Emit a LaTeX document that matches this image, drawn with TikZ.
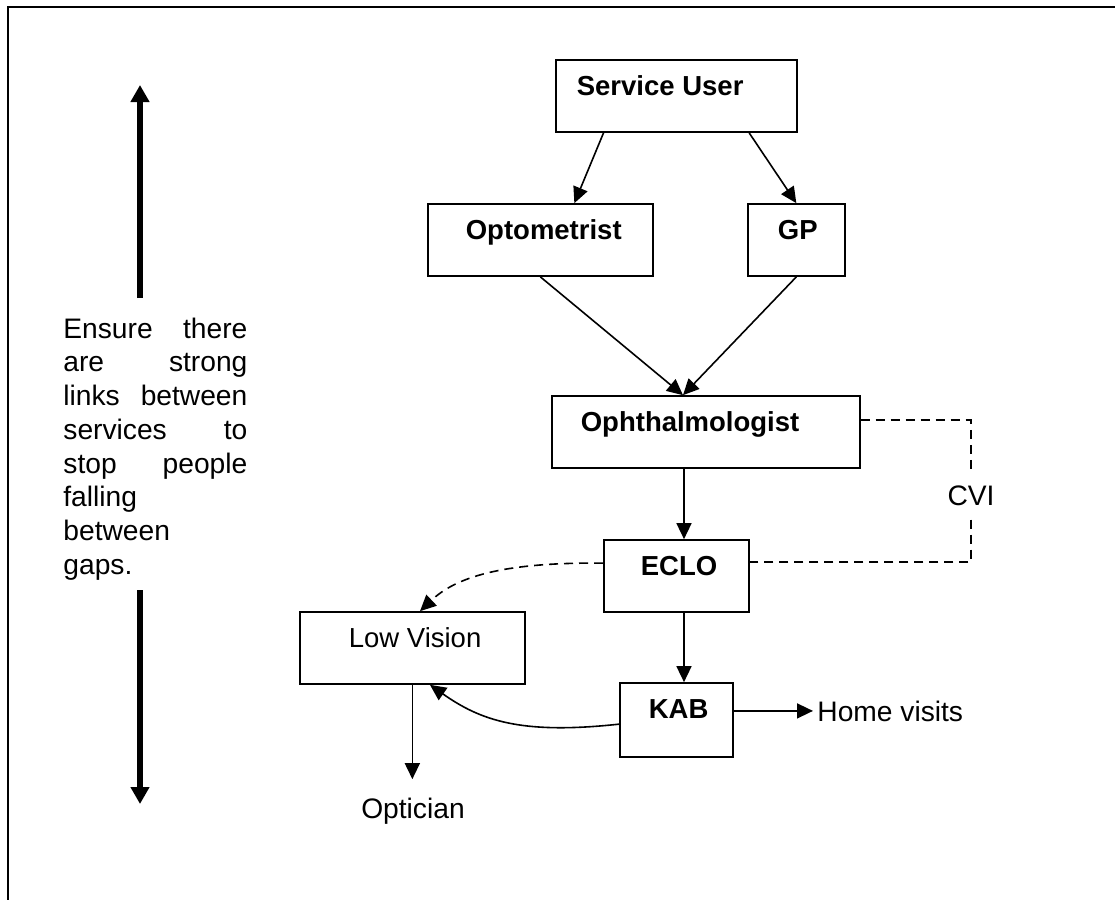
\documentclass[tikz,border=0pt]{standalone}
\usepackage{fontspec}
\setmainfont{Liberation Sans}
\usetikzlibrary{arrows.meta,calc}
\newdimen\pxu \pxu=0.5pt
\newcommand\bxt[3]{\makebox[#1\pxu][l]{\hspace*{#2\pxu}#3}}
\begin{document}
\begin{tikzpicture}[x=0.5pt,y=-0.5pt,
  base font/.style={font=\fontsize{14.1pt}{16pt}\selectfont},
  base font,
  box/.style={draw, line width=0.85pt, inner sep=0pt, text height=17.5pt, text depth=18.5pt,
    anchor=base west, font=\fontsize{13.75pt}{16pt}\selectfont\bfseries},
  plainbox/.style={box, font=\fontsize{13.75pt}{16pt}\selectfont},
  arr/.style={line width=0.8pt, -{Triangle[width=7.5pt,length=8pt]}},
  dsh/.style={line width=0.8pt, dash pattern=on 4.5pt off 3pt},
  big/.style={line width=2.8pt, -{Triangle[width=9pt,length=8.5pt]}},
  txtline/.style={anchor=base west, inner sep=0pt},
  frame/.style={line width=1pt}
]
\useasboundingbox (0,0) rectangle (1115,900);

% frame
\coordinate (fTR) at (1115,7);
\coordinate (fTL) at (8,7);
\coordinate (fBL) at (8,900);
\draw[frame] (fTR) -- (fTL) -- (fBL);

% boxes
\node[box] (su) at (555,95) {\bxt{241}{21}{Service User}};
\node[box] (opt) at (427,239) {\bxt{225}{38}{Optometrist}};
\node[box] (gp) at (747,239) {\bxt{97}{30}{GP}};
\node[box] (oph) at (551,431) {\bxt{308}{29}{Ophthalmologist}};
\node[box] (eclo) at (603,575) {\bxt{145}{37}{ECLO}};
\node[plainbox] (lowv) at (299,647) {\bxt{225}{49}{Low Vision}};
\node[box, text depth=19.5pt] (kab) at (619,718) {\bxt{113}{29}{KAB}};

% free labels
\node[anchor=base west, inner xsep=2pt] (home) at (813,721) {Home visits};
\node[anchor=base, inner xsep=0pt, inner ysep=9pt] (optc) at (413,818) {Optician};
\node[anchor=base, inner xsep=0pt, inner ysep=7pt] (cvi) at (971,505) {CVI};

% left text
\node[txtline] (t1) at (63,338) {\makebox[92pt][s]{Ensure there}};
\node[txtline] (t2) at (63,371.75) {\makebox[92pt][s]{are strong}};
\node[txtline] (t3) at (63,405.5) {\makebox[92pt][s]{links between}};
\node[txtline] (t4) at (63,439.25) {\makebox[92pt][s]{services to}};
\node[txtline] (t5) at (63,473) {\makebox[92pt][s]{stop people}};
\node[txtline] (t6) at (63,506.75) {falling};
\node[txtline] (t7) at (63,540.5) {between};
\node[txtline] (t8) at (63,574.25) {gaps.};

% left big arrows
\coordinate (a1) at (140,85);
\coordinate (a2) at (140,298);
\coordinate (a3) at (140,590);
\coordinate (a4) at (140,804);
\draw[big] (a2) -- (a1);
\draw[big] (a3) -- (a4);

% connectors
\draw[arr] ($(su.south west)!0.2!(su.south east)$) -- ($(opt.north west)!0.65!(opt.north east)$);
\draw[arr] ($(su.south west)!0.8!(su.south east)$) -- (gp.north);
\coordinate (ophin) at ($(oph.north west)+(132,0)$);
\draw[arr] (opt.south) -- (ophin);
\draw[arr] (gp.south) -- (ophin);
\draw[arr] ($(oph.south west)+(133,0)$) -- ($(eclo.north west)+(81,0)$);
\draw[arr] ($(eclo.south west)+(81,0)$) -- ($(kab.north west)+(65,0)$);
\draw[arr] (kab.east |- home.west) -- (home.west);
\draw[arr, dsh] ($(eclo.north west)+(0,24)$) .. controls (500,562) and (455,578) .. ($(lowv.north west)+(121,0)$);
\draw[arr] ($(kab.north west)+(0,42)$) .. controls (520,735) and (480,720) .. ($(lowv.south west)+(131,0)$);
\draw[arr] (lowv.south) -- (lowv.south |- optc.north);

% CVI dashed link
\draw[dsh] ($(oph.north east)+(0,25)$) -| (cvi.north);
\draw[dsh] (cvi.south) |- ($(eclo.north east)+(0,23)$);
\end{tikzpicture}
\end{document}
